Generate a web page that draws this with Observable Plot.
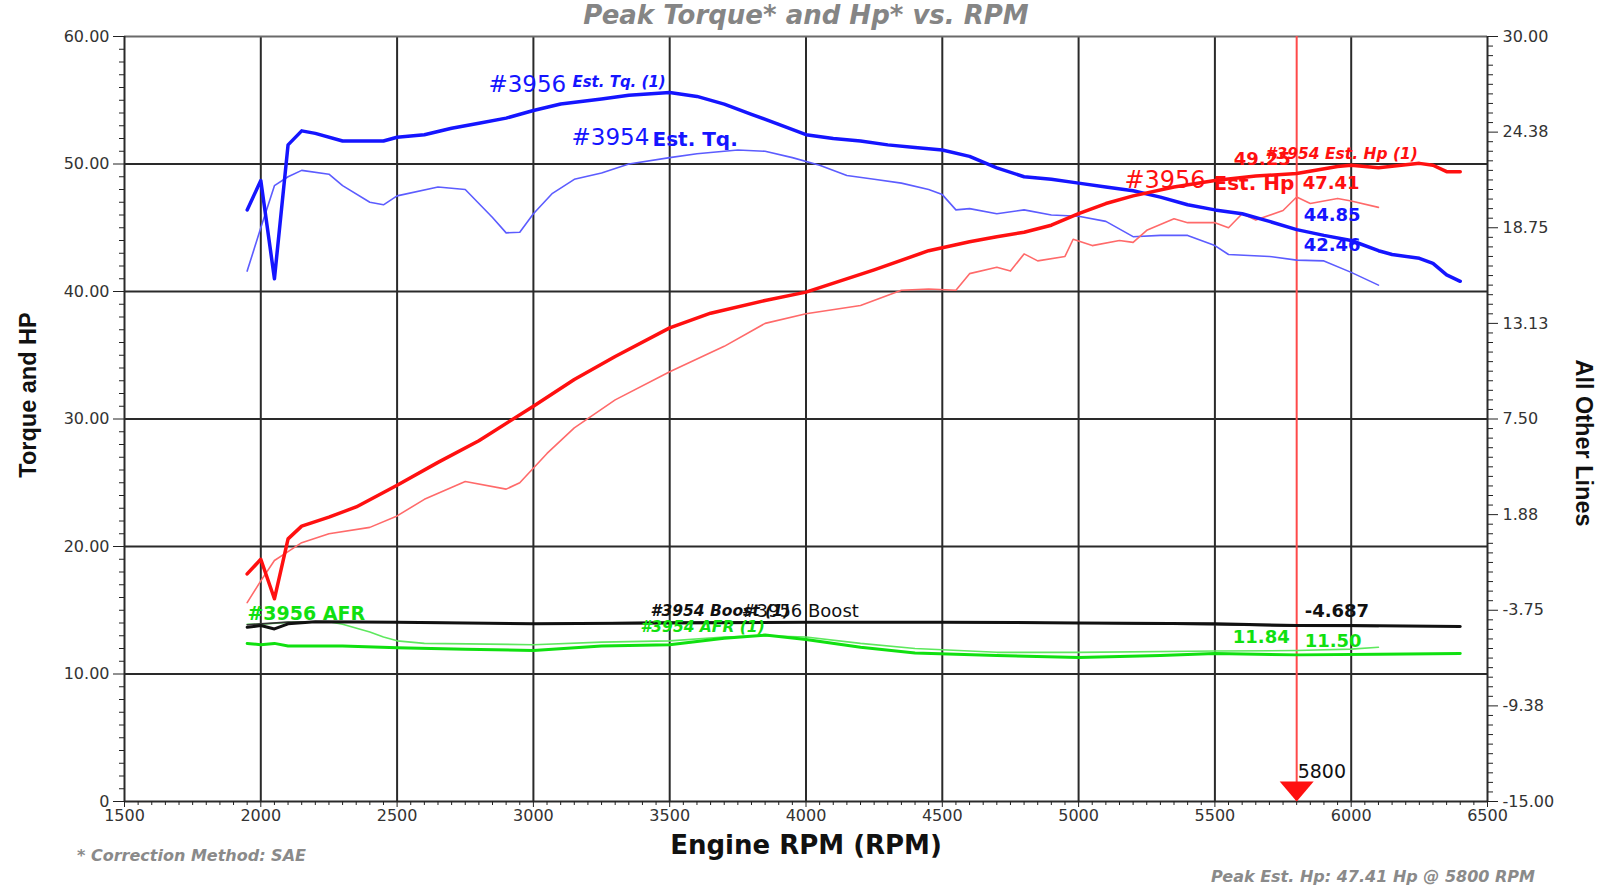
<!DOCTYPE html>
<html><head><meta charset="utf-8">
<script src="https://cdn.jsdelivr.net/npm/d3@7"></script>
<script src="https://cdn.jsdelivr.net/npm/@observablehq/plot@0.6"></script>
<style>
html,body{margin:0;padding:0;background:#fff;}
body{width:1612px;height:888px;overflow:hidden;position:relative;font-family:"DejaVu Sans",sans-serif;}
#title{height:30px;line-height:34px;text-align:center;font:bold italic 26px "DejaVu Sans",sans-serif;color:#858585;white-space:nowrap;}
#chart{height:858px;}
.foot{position:absolute;font:bold italic 16px "DejaVu Sans",sans-serif;color:#8a8a8a;white-space:nowrap;line-height:20px;}
</style></head><body>
<div id="title">Peak Torque* and Hp* vs. RPM</div>
<div id="chart"></div>
<div class="foot" style="left:77px;top:846px;">* Correction Method: SAE</div>
<div class="foot" style="left:1211px;top:867px;">Peak Est. Hp: 47.41 Hp @ 5800 RPM</div>
<script>
// ---- data ----
const tq3956Rpm = [1950,2000,2050,2100,2150,2200,2300,2450,2500,2600,2700,2800,2900,3000,3100,3250,3350,3500,3600,3700,3800,3900,4000,4100,4200,4300,4400,4500,4600,4700,4800,4900,5000,5100,5200,5300,5400,5500,5600,5700,5800,5900,6000,6100,6150,6250,6300,6350,6400];
const tq3956 = [46.4,48.7,41.0,51.5,52.6,52.4,51.8,51.8,52.1,52.3,52.8,53.2,53.6,54.2,54.7,55.1,55.4,55.6,55.3,54.7,53.9,53.1,52.3,52.0,51.8,51.5,51.3,51.1,50.6,49.7,49.0,48.8,48.5,48.2,47.9,47.4,46.8,46.4,46.1,45.5,44.85,44.4,44.0,43.2,42.9,42.6,42.2,41.3,40.8];

const tq3954Rpm = [1950,2000,2050,2100,2150,2250,2300,2400,2450,2500,2650,2750,2850,2900,2950,3000,3070,3150,3250,3350,3500,3600,3750,3850,3950,4050,4150,4250,4350,4450,4500,4550,4600,4700,4800,4900,5000,5100,5200,5300,5400,5500,5550,5700,5800,5900,6000,6100];
const tq3954 = [41.6,45.0,48.3,49.0,49.5,49.2,48.3,47.0,46.8,47.5,48.2,48.0,45.8,44.6,44.65,46.1,47.7,48.8,49.3,50.0,50.5,50.8,51.1,51.0,50.5,49.9,49.1,48.8,48.5,48.0,47.6,46.4,46.5,46.1,46.4,46.0,45.9,45.5,44.3,44.4,44.4,43.6,42.9,42.75,42.46,42.4,41.5,40.5];

const hp3956Rpm = [1950,2000,2050,2100,2150,2250,2350,2500,2650,2800,3000,3150,3300,3500,3650,3850,4000,4250,4450,4600,4700,4800,4900,5000,5100,5200,5350,5500,5650,5800,5950,6000,6100,6250,6300,6350,6400];
const hp3956 = [17.85,19.0,15.9,20.6,21.6,22.3,23.1,24.8,26.6,28.3,31.0,33.1,34.9,37.15,38.3,39.3,39.95,41.7,43.2,43.9,44.3,44.65,45.2,46.1,46.9,47.5,48.2,48.7,49.05,49.25,49.8,49.9,49.7,50.05,49.9,49.4,49.4];

const hp3954Rpm = [1950,2000,2050,2100,2150,2250,2400,2500,2600,2750,2900,2950,3050,3150,3300,3500,3700,3850,4000,4200,4350,4450,4550,4600,4700,4750,4800,4850,4950,4980,5050,5150,5200,5250,5350,5400,5500,5550,5600,5650,5750,5800,5850,5950,6000,6100];
const hp3954 = [15.6,17.3,18.9,19.6,20.3,21.0,21.5,22.4,23.7,25.1,24.5,25.0,27.3,29.3,31.5,33.7,35.7,37.5,38.25,38.9,40.1,40.2,40.1,41.4,41.9,41.6,42.95,42.4,42.75,44.1,43.6,44.0,43.85,44.8,45.7,45.4,45.4,45.0,46.1,45.6,46.35,47.41,46.9,47.3,47.1,46.6];

const afr3956Rpm = [1950,2000,2050,2100,2300,2500,2750,3000,3250,3500,3700,3850,4000,4200,4400,4700,5000,5300,5500,5800,6100,6400];
const afr3956 = [12.4,12.3,12.4,12.2,12.2,12.05,11.95,11.85,12.2,12.3,12.8,13.05,12.7,12.1,11.65,11.45,11.3,11.45,11.6,11.5,11.55,11.6];

const afr3954Rpm = [1950,2000,2100,2250,2300,2400,2450,2500,2600,3000,3250,3500,3700,3850,4000,4200,4400,4700,5000,5500,5800,6000,6100];
const afr3954 = [13.9,13.9,14.05,14.1,13.9,13.3,12.9,12.6,12.4,12.3,12.5,12.6,12.9,13.0,12.9,12.4,12.0,11.7,11.7,11.8,11.84,11.95,12.1];

const boost3956Rpm = [1950,2000,2050,2100,2200,2500,3000,3500,4000,4500,5000,5500,5800,6000,6400];
const boost3956 = [-4.75,-4.65,-4.85,-4.55,-4.42,-4.45,-4.55,-4.5,-4.45,-4.45,-4.5,-4.55,-4.65,-4.65,-4.7];
const boost3954Rpm = [1950,2000,2100,2500,3000,3500,4000,4500,5000,5500,5800,6100];
const boost3954 = [-4.6,-4.55,-4.45,-4.45,-4.55,-4.45,-4.45,-4.45,-4.5,-4.6,-4.687,-4.7];

const xTicks = [1500,2000,2500,3000,3500,4000,4500,5000,5500,6000,6500];
const leftTicks = [0,10,20,30,40,50,60];
const leftTickLabels = ["0","10.00","20.00","30.00","40.00","50.00","60.00"];
const rightTicks = [-15,-9.375,-3.75,1.875,7.5,13.125,18.75,24.375,30];
const rightTickLabels = ["-15.00","-9.38","-3.75","1.88","7.50","13.13","18.75","24.38","30.00"];
const cursorRpm = 5800;

// ---- helpers ----
const rows = (r, v) => r.map((x, i) => ({rpm: x, v: v[i]}));
const toLeft = b => (b + 15) * 60 / 45; // right axis (-15..30) -> left axis (0..60)

const minorX = d3.range(1500, 6501, 50).filter(d => d % 500 !== 0);
const minorLeft = d3.range(0, 60.001, 1).filter(d => d % 10 !== 0);
const minorRight = d3.range(0, 81).map(i => i * 0.75).filter((d, i) => i % 10 !== 0);

const FONT = '"DejaVu Sans", sans-serif';
const lab = (text, x, y, o = {}) => Plot.text([text], {x: () => x, y: () => y, text: d => d, textAnchor: "start", lineAnchor: "middle", fontFamily: FONT, ...o});

const triangle = {draw(ctx) { ctx.moveTo(-17, -20); ctx.lineTo(17, -20); ctx.lineTo(0, 0); ctx.closePath(); }};

const BLUE = "#1515ff", BLUE2 = "#5c5cff", RED = "#ff1010", RED2 = "#ff6a6a", GREEN = "#10e010", GREEN2 = "#5ee85e";

const chart = Plot.plot({
  width: 1612, height: 858,
  marginTop: 6, marginBottom: 87, marginLeft: 124, marginRight: 125,
  style: {fontFamily: FONT, fontSize: "16px", background: "white", overflow: "visible"},
  x: {domain: [1500, 6500], axis: null},
  y: {domain: [0, 60], axis: null},
  marks: [
    // grid
    Plot.ruleX(xTicks.slice(1, -1), {stroke: "#2a2a2a", strokeWidth: 2}),
    Plot.ruleY(leftTicks.slice(1, -1), {stroke: "#2a2a2a", strokeWidth: 2}),
    Plot.ruleY([60], {stroke: "#6a6a6a", strokeWidth: 2}),
    Plot.ruleY([0], {stroke: "#2a2a2a", strokeWidth: 2}),
    Plot.ruleX([1500, 6500], {stroke: "#2a2a2a", strokeWidth: 2}),
    // axes
    Plot.axisY(leftTicks, {anchor: "left", tickSize: 11, tickPadding: 4, tickFormat: d => leftTickLabels[leftTicks.indexOf(d)], stroke: "#222", fill: "#333", fontSize: 16, label: null}),
    Plot.axisY(minorLeft, {anchor: "left", tickSize: 5, tickFormat: () => "", stroke: "#222", label: null}),
    Plot.axisY(rightTicks.map(toLeft), {anchor: "right", tickSize: 10, tickPadding: 5, tickFormat: d => rightTickLabels[rightTicks.map(toLeft).indexOf(d)], stroke: "#222", fill: "#333", fontSize: 16, label: null}),
    Plot.axisY(minorRight, {anchor: "right", tickSize: 5, tickFormat: () => "", stroke: "#222", label: null}),
    Plot.axisX(xTicks, {anchor: "bottom", tickSize: 6, tickPadding: 2, tickFormat: d => String(d), stroke: "#222", fill: "#333", fontSize: 16, label: null}),
    Plot.axisX(minorX, {anchor: "bottom", tickSize: 4, tickFormat: () => "", stroke: "#222", label: null}),
    // axis titles
    Plot.text(["Torque and HP"], {frameAnchor: "left", dx: -96, dy: -24, rotate: -90, text: d => d, fontFamily: '"Liberation Sans", Arial, sans-serif', fontWeight: "bold", fontSize: 23.5, fill: "#111", textAnchor: "middle", lineAnchor: "middle"}),
    Plot.text(["All Other Lines"], {frameAnchor: "right", dx: 96, dy: 24, rotate: 90, text: d => d, fontFamily: '"Liberation Sans", Arial, sans-serif', fontWeight: "bold", fontSize: 23.5, fill: "#111", textAnchor: "middle", lineAnchor: "middle"}),
    Plot.text(["Engine RPM (RPM)"], {frameAnchor: "bottom", dy: 44, text: d => d, fontWeight: "bold", fontSize: 26, fill: "#111", textAnchor: "middle", lineAnchor: "middle"}),
    // cursor
    Plot.ruleX([cursorRpm], {stroke: "#ff4a4a", strokeWidth: 2}),
    // series (thin first)
    Plot.line(rows(afr3954Rpm, afr3954), {x: "rpm", y: "v", stroke: GREEN2, strokeWidth: 1.6}),
    Plot.line(rows(boost3954Rpm, boost3954), {x: "rpm", y: d => toLeft(d.v), stroke: "#333", strokeWidth: 1.6}),
    Plot.line(rows(tq3954Rpm, tq3954), {x: "rpm", y: "v", stroke: BLUE2, strokeWidth: 1.6}),
    Plot.line(rows(hp3954Rpm, hp3954), {x: "rpm", y: "v", stroke: RED2, strokeWidth: 1.6}),
    Plot.line(rows(afr3956Rpm, afr3956), {x: "rpm", y: "v", stroke: GREEN, strokeWidth: 3}),
    Plot.line(rows(boost3956Rpm, boost3956), {x: "rpm", y: d => toLeft(d.v), stroke: "#111", strokeWidth: 3}),
    Plot.line(rows(tq3956Rpm, tq3956), {x: "rpm", y: "v", stroke: BLUE, strokeWidth: 3.5}),
    Plot.line(rows(hp3956Rpm, hp3956), {x: "rpm", y: "v", stroke: RED, strokeWidth: 3.5}),
    Plot.dot([cursorRpm], {x: d => d, y: () => 0, symbol: triangle, fill: "#ff1010", stroke: null}),
    // labels
    lab("#3956", 2835, 56.2, {fill: BLUE, fontSize: 23}),
    lab("Est. Tq. (1)", 3143, 56.4, {fill: BLUE, fontSize: 15, fontWeight: "bold", fontStyle: "italic"}),
    lab("#3954", 3140, 52.1, {fill: BLUE, fontSize: 23}),
    lab("Est. Tq.", 3437, 51.9, {fill: BLUE, fontSize: 20, fontWeight: "bold"}),
    lab("#3956", 5168, 48.7, {fill: RED, fontSize: 24}),
    lab("Est. Hp", 5495, 48.5, {fill: RED, fontSize: 20, fontWeight: "bold"}),
    lab("49.25", cursorRpm, 50.35, {fill: RED, fontSize: 18, fontWeight: "bold", textAnchor: "end", dx: -6}),
    lab("#3954 Est. Hp (1)", 5686, 50.8, {fill: RED, fontSize: 15.5, fontWeight: "bold", fontStyle: "italic"}),
    lab("47.41", cursorRpm, 48.5, {fill: RED, fontSize: 18, fontWeight: "bold", dx: 6}),
    lab("44.85", cursorRpm, 46.0, {fill: BLUE, fontSize: 18, fontWeight: "bold", dx: 7}),
    lab("42.46", cursorRpm, 43.6, {fill: BLUE, fontSize: 18, fontWeight: "bold", dx: 7}),
    lab("#3956 AFR", 1951, 14.75, {fill: GREEN, fontSize: 19, fontWeight: "bold"}),
    lab("#3954 Boost (1)", 3430, 14.9, {fill: "#111", fontSize: 15.5, fontWeight: "bold", fontStyle: "italic"}),
    lab("#3956 Boost", 3763, 14.9, {fill: "#111", fontSize: 18}),
    lab("#3954 AFR (1)", 3393, 13.7, {fill: GREEN, fontSize: 15.5, fontWeight: "bold", fontStyle: "italic"}),
    lab("-4.687", cursorRpm, 14.9, {fill: "#111", fontSize: 18, fontWeight: "bold", dx: 8}),
    lab("11.84", cursorRpm, 12.86, {fill: GREEN, fontSize: 18, fontWeight: "bold", textAnchor: "end", dx: -7}),
    lab("11.50", cursorRpm, 12.6, {fill: GREEN, fontSize: 18, fontWeight: "bold", dx: 8}),
    lab("5800", cursorRpm, 2.35, {fill: "#111", fontSize: 19, dx: 1})
  ]
});
document.getElementById("chart").appendChild(chart);
</script>
</body></html>
